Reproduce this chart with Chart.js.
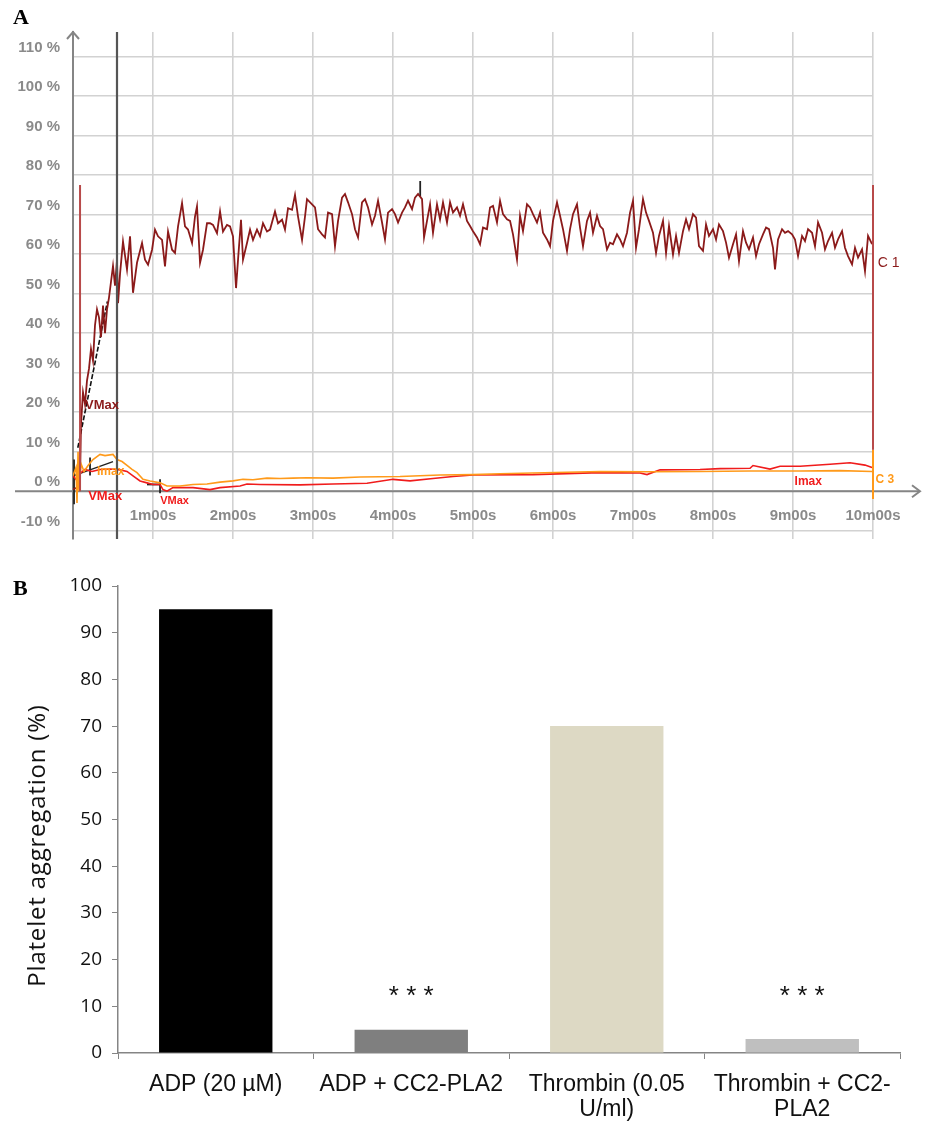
<!DOCTYPE html>
<html><head><meta charset="utf-8">
<script src="https://cdn.jsdelivr.net/npm/chart.js@4.4.1/dist/chart.umd.min.js"></script>
<style>
body{margin:0;background:#fff;width:929px;height:1125px;overflow:hidden;position:relative}
#ca{position:absolute;left:0;top:0}
#cb{position:absolute;left:0;top:560px}
.lab{position:absolute;font-family:"Liberation Serif","DejaVu Serif",serif;font-weight:bold;font-size:22px;line-height:22px}
</style></head><body>
<canvas id="ca" width="929" height="561"></canvas>
<canvas id="cb" width="929" height="565"></canvas>
<div class="lab" style="left:13px;top:6px">A</div>
<div class="lab" style="left:13px;top:577px">B</div>
<script>
// ---------- Panel A data (time in minutes, aggregation %) ----------
const timeTickLabels = ['', '1m00s', '2m00s', '3m00s', '4m00s', '5m00s', '6m00s', '7m00s', '8m00s', '9m00s', '10m00s'];
const c1Points = [[0,0.5],[0.063,1],[0.088,3],[0.1,17],[0.125,25],[0.15,22],[0.175,28],[0.2,31],[0.225,36],[0.25,33],[0.275,42],[0.3,46],[0.325,44],[0.35,39],[0.375,47],[0.4,40],[0.425,46],[0.45,49],[0.475,53],[0.5,57],[0.525,52],[0.55,58.4],[0.563,47.6],[0.588,55],[0.625,63.2],[0.675,56.1],[0.713,64.5],[0.75,50.2],[0.8,57.8],[0.863,62.8],[0.9,58.6],[0.938,57.3],[0.988,61.1],[1.025,66.2],[1.063,64.5],[1.113,63.6],[1.15,56.9],[1.188,65.7],[1.238,61.1],[1.275,60.3],[1.313,67],[1.363,72.9],[1.4,67],[1.438,66.2],[1.488,62.8],[1.525,69.5],[1.55,72.1],[1.588,57.8],[1.625,61.1],[1.675,67.8],[1.713,67.8],[1.75,67.4],[1.8,65.3],[1.838,70.8],[1.875,65.7],[1.925,67.4],[1.963,67],[2,64.5],[2.038,51.4],[2.063,58.6],[2.1,68.7],[2.125,58.6],[2.175,62.8],[2.213,66.2],[2.25,63.6],[2.3,66.2],[2.338,64.5],[2.375,67.8],[2.425,65.7],[2.463,66.2],[2.525,70.8],[2.563,67.8],[2.613,68.7],[2.65,66.2],[2.688,71.6],[2.738,71.2],[2.775,75],[2.813,69.5],[2.863,63.6],[2.9,69.5],[2.925,73.9],[2.988,72.6],[3.025,71.8],[3.063,66.3],[3.113,65],[3.15,64.2],[3.188,70.5],[3.238,70.1],[3.275,62],[3.313,68.4],[3.363,74.3],[3.4,75.2],[3.438,73.1],[3.488,70.1],[3.525,66.3],[3.563,64.2],[3.613,73.1],[3.65,73.9],[3.688,71.8],[3.738,67.5],[3.775,69.7],[3.813,73.5],[3.863,68],[3.9,63.7],[3.938,70.5],[3.988,71.4],[4.025,70.1],[4.063,68],[4.113,70.5],[4.15,71.8],[4.188,73.5],[4.238,71.4],[4.275,74.3],[4.313,75.2],[4.363,73.9],[4.388,64.2],[4.425,68.4],[4.463,72.6],[4.5,65.4],[4.55,72.6],[4.588,68.8],[4.625,73.1],[4.675,68],[4.713,73.1],[4.75,70.5],[4.8,71.8],[4.838,69.7],[4.875,72.6],[4.925,68.4],[4.963,67.1],[5,65.8],[5.05,64.2],[5.088,62.5],[5.125,66.7],[5.175,66.3],[5.213,71.8],[5.25,72.2],[5.3,68],[5.338,73.5],[5.375,70.1],[5.425,68.8],[5.463,68.4],[5.5,65],[5.55,58.6],[5.588,69.7],[5.625,65.8],[5.675,72.6],[5.713,71.8],[5.75,70.1],[5.8,68],[5.838,70.5],[5.875,65.4],[5.925,63.7],[5.963,62],[6,68.4],[6.05,73.1],[6.088,69.7],[6.125,66.3],[6.175,60.8],[6.213,66.3],[6.25,70.1],[6.3,72.6],[6.338,66.7],[6.375,62],[6.425,68.4],[6.463,70.5],[6.5,65.4],[6.55,69.7],[6.588,67.1],[6.625,66.3],[6.675,61.2],[6.713,62.9],[6.75,62.5],[6.8,65],[6.838,63.7],[6.875,62],[6.925,65.4],[6.963,70.5],[7,73.5],[7.038,61.6],[7.075,66.3],[7.125,73.9],[7.163,70.5],[7.2,68.4],[7.25,65.4],[7.288,60.3],[7.325,64.6],[7.375,68.4],[7.413,60.3],[7.45,67.1],[7.5,59.9],[7.538,64.6],[7.575,60.3],[7.625,65.8],[7.663,68.8],[7.7,66.3],[7.75,70.1],[7.788,69.2],[7.825,62],[7.875,60.8],[7.913,67.5],[7.95,64.6],[8,66.3],[8.038,63.7],[8.075,67.5],[8.125,65.8],[8.163,62.9],[8.2,59.1],[8.25,62.5],[8.288,65],[8.325,58.2],[8.375,65.8],[8.413,62.9],[8.45,61.2],[8.5,64.2],[8.538,59.5],[8.575,62.5],[8.625,65],[8.663,66.7],[8.7,66.3],[8.75,61.6],[8.775,56.1],[8.813,63.7],[8.863,66.3],[8.9,65.4],[8.938,65.8],[8.988,65],[9.025,63.7],[9.063,59.5],[9.113,64.6],[9.15,63.3],[9.188,66.3],[9.238,65.4],[9.275,62],[9.313,68],[9.363,65.4],[9.4,61.2],[9.438,63.3],[9.488,65.4],[9.525,61.6],[9.563,63.7],[9.613,65.8],[9.65,61.6],[9.688,59.5],[9.738,57.4],[9.775,61.6],[9.813,59.1],[9.863,61.2],[9.9,55.7],[9.938,64.6],[9.988,62.5]];
const orangePoints = [[0,3.9],[0.038,6],[0.05,-3],[0.063,10],[0.075,0],[0.1,7],[0.138,5],[0.188,6.5],[0.25,8],[0.338,9.3],[0.4,9],[0.5,9.3],[0.55,8],[0.613,7.5],[0.675,6.5],[0.738,5.5],[0.8,4.7],[0.875,3],[0.963,2.6],[1.088,2.1],[1.175,1.3],[1.338,1.3],[1.5,1.7],[1.675,1.8],[1.838,2.3],[2,2.6],[2.125,3],[2.25,2.9],[2.425,3.3],[2.588,3.2],[2.75,3.3],[2.925,3.4],[3.25,3.3],[3.588,3.6],[4.088,3.7],[4.588,4.1],[5,4.2],[5.338,4.4],[5.75,4.6],[6.175,4.8],[6.588,5],[7.213,4.9],[7.838,5],[8.463,5.1],[9.088,5.1],[9.588,5.2],[9.988,5]];
const redPoints = [[0,3.9],[0.038,3],[0.088,4.5],[0.15,5.5],[0.238,5],[0.338,5.5],[0.463,5.6],[0.588,5.4],[0.675,5],[0.75,3.9],[0.838,2.6],[0.925,2.1],[1,1.7],[1.088,1.7],[1.125,0.4],[1.175,0],[1.25,0.9],[1.5,0.9],[1.713,0.4],[1.838,0.9],[2.088,1.3],[2.175,1.8],[2.338,1.7],[2.838,1.6],[3.25,1.8],[3.675,2],[4,3],[4.213,2.6],[4.5,3.2],[4.75,3.7],[5,4.1],[5.75,4.2],[6.588,4.7],[7.088,4.6],[7.175,4.2],[7.338,5.4],[7.838,5.5],[8.088,5.7],[8.463,5.8],[8.5,6.5],[8.713,5.6],[8.838,6.3],[9.088,6.3],[9.463,6.8],[9.713,7.2],[9.9,6.6],[9.988,6]];
// markers drawn by the instrument software
const startMarker = [[0.088,77.5],[0.088,0]];
const endMarkerC1 = [[10,77.5],[10,10.5]];
const endMarkerC3 = [[10,10.5],[10,-2]];
const cursorLine = [[0.55,116.2],[0.55,-12.1]];
const slopeC1 = [[0.06,11],[0.43,48]];
const slopeLow = [[0.02,4],[0.5,7.5]];
const blackBits = [[[0.013,-3.3],[0.013,8]],[[0.213,8.5],[0.213,4]],[[0.925,1.7],[1.088,1.7]],[[1.088,3],[1.088,-0.5]],[[4.34,74.5],[4.34,78.5]]];
const traceLabels = [
  {text:'VMax', t:0.15, v:21.7, color:'#8b1a1a', size:13},
  {text:'Imax', t:0.3, v:5.0, color:'#ff9a1a', size:12},
  {text:'VMax', t:0.19, v:-1.4, color:'#f01c1c', size:13},
  {text:'VMax', t:1.09, v:-2.6, color:'#f01c1c', size:11},
  {text:'Imax', t:9.02, v:2.5, color:'#f01c1c', size:12},
  {text:'C 3', t:10.03, v:2.8, color:'#ff9a1a', size:12},
  {text:'C 1', t:10.06, v:57.6, color:'#8b1a1a', size:14, normal:true}
];

// ---------- Panel B data ----------
const categories = ['ADP (20 µM)', 'ADP + CC2-PLA2', ['Thrombin (0.05', 'U/ml)'], ['Thrombin + CC2-', 'PLA2']];
const aggregation = [95, 5, 70, 3];
const barColors = ['#000000', '#7f7f7f', '#ddd9c4', '#bfbfbf'];
const significance = ['', '* * *', '', '* * *'];
const starLevel = 12.8;
const yTitleB = 'Platelet aggregation (%)';

const pts = a => a.map(p => ({x:p[0], y:p[1]}));
const lineDs = (data, color, width, extra) => Object.assign({data: pts(data), borderColor: color, borderWidth: width, pointRadius: 0, tension: 0, fill: false}, extra || {});

const gray = '#858585';
const panelAPlugin = {
  id: 'panelA',
  beforeDatasetsDraw(chart) {
    const {ctx, scales: {x, y}} = chart;
    const y0 = y.getPixelForValue(0);
    const yTop = y.getPixelForValue(116.2);
    const xl = x.left;
    ctx.save();
    ctx.strokeStyle = gray; ctx.lineWidth = 2;
    ctx.beginPath(); ctx.moveTo(15, y0); ctx.lineTo(x.right + 46, y0); ctx.stroke();
    ctx.beginPath(); ctx.moveTo(x.right + 39, y0 - 6); ctx.lineTo(x.right + 47, y0); ctx.lineTo(x.right + 39, y0 + 6); ctx.stroke();
    ctx.beginPath(); ctx.moveTo(xl - 6, yTop + 7); ctx.lineTo(xl, yTop); ctx.lineTo(xl + 6, yTop + 7); ctx.stroke();
    ctx.restore();
  },
  afterDatasetsDraw(chart) {
    const {ctx, scales: {x, y}} = chart;
    ctx.save();
    ctx.textBaseline = 'middle'; ctx.textAlign = 'left';
    traceLabels.forEach(l => {
      ctx.font = (l.normal ? '' : 'bold ') + l.size + 'px "Liberation Sans", Arial, sans-serif';
      ctx.fillStyle = l.color;
      ctx.fillText(l.text, x.getPixelForValue(l.t), y.getPixelForValue(l.v));
    });
    ctx.restore();
  }
};

const dsA = [
  lineDs(cursorLine, '#555555', 2.2),
  lineDs(startMarker, '#b84a4a', 2),
  lineDs(endMarkerC1, '#b84a4a', 2, {clip: false}),
  lineDs(endMarkerC3, '#ff9a1a', 2, {clip: false}),
  lineDs(orangePoints, '#ff9a1a', 1.6),
  lineDs(redPoints, '#f01c1c', 1.6),
  lineDs(c1Points, '#8b1a1a', 1.8),
  lineDs(slopeC1, '#111111', 1.6, {borderDash: [5, 2]}),
  lineDs(slopeLow, '#222222', 1.4)
];
blackBits.forEach(b => dsA.push(lineDs(b, '#222222', 1.8)));

new Chart(document.getElementById('ca'), {
  type: 'line',
  data: {datasets: dsA},
  options: {
    responsive: false, animation: false, devicePixelRatio: 1,
    layout: {padding: {top: 32, bottom: 12, left: 0, right: 56}},
    plugins: {legend: {display: false}, tooltip: {enabled: false}},
    scales: {
      x: {
        type: 'linear', min: 0, max: 10, position: {y: 0},
        afterFit(s) { s.height = 0; },
        grid: {color: '#d2d2d2', lineWidth: 1.6, drawTicks: false},
        border: {display: false},
        ticks: {stepSize: 1, autoSkip: false, maxRotation: 0, padding: 16, color: '#8a8a8a',
          font: {family: '"Liberation Sans", Arial, sans-serif', size: 15, weight: 'bold'},
          callback: (v, i) => timeTickLabels[i]}
      },
      y: {
        type: 'linear', min: -12.1, max: 116.2,
        afterFit(s) { s.width = 73; },
        grid: {color: '#d2d2d2', lineWidth: 1.6, drawTicks: false},
        border: {display: true, color: gray, width: 2},
        ticks: {stepSize: 10, includeBounds: false, autoSkip: false, padding: 13, labelOffset: -9, color: '#8a8a8a',
          font: {family: '"Liberation Sans", Arial, sans-serif', size: 15, weight: 'bold'},
          callback: v => v + ' %'}
      }
    }
  },
  plugins: [panelAPlugin]
});

const panelBPlugin = {
  id: 'panelB',
  afterDatasetsDraw(chart) {
    const {ctx, scales: {x, y}, chartArea} = chart;
    ctx.save();
    ctx.fillStyle = '#111'; ctx.textAlign = 'center'; ctx.textBaseline = 'middle';
    ctx.font = '26px "Liberation Sans", Arial, sans-serif';
    significance.forEach((s, i) => { if (s) ctx.fillText(s, x.getPixelForValue(i), y.getPixelForValue(starLevel) + 4); });
    ctx.translate(38, (chartArea.top + chartArea.bottom) / 2 + 26);
    ctx.rotate(-Math.PI / 2);
    ctx.font = '24px "Open Sans", sans-serif';
    try { ctx.letterSpacing = '0.8px'; } catch (e) {}
    ctx.fillText(yTitleB, 0, 0);
    ctx.restore();
  }
};

new Chart(document.getElementById('cb'), {
  type: 'bar',
  data: {labels: categories, datasets: [{data: aggregation, backgroundColor: barColors, categoryPercentage: 1, barPercentage: 0.58}]},
  options: {
    responsive: false, animation: false, devicePixelRatio: 1,
    layout: {padding: {top: 26, right: 29, left: 0, bottom: 0}},
    plugins: {legend: {display: false}, tooltip: {enabled: false}},
    scales: {
      x: {
        afterFit(s) { s.height = 72; },
        grid: {display: true, drawOnChartArea: false, offset: true, tickLength: 6, color: gray},
        border: {color: gray, width: 1.5},
        ticks: {padding: 13, color: '#111', maxRotation: 0, autoSkip: false,
          font: {family: '"Liberation Sans", Arial, sans-serif', size: 23, lineHeight: 1.1}}
      },
      y: {
        min: 0, max: 100,
        afterFit(s) { s.width = 118; },
        grid: {display: true, drawOnChartArea: false, tickLength: 6, color: gray},
        border: {color: gray, width: 1.5},
        ticks: {stepSize: 10, padding: 10, color: '#111',
          font: {family: '"Open Sans", sans-serif', size: 19}}
      }
    }
  },
  plugins: [panelBPlugin]
});
</script>
</body></html>
